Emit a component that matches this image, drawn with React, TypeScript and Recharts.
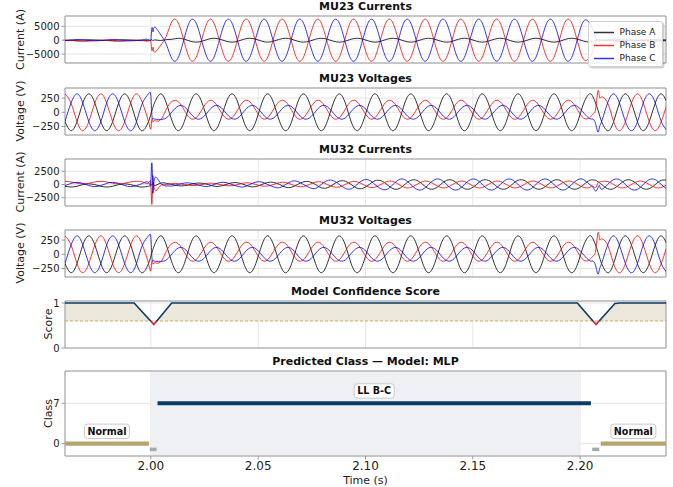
import React from "react";
import {
  LineChart,
  ComposedChart,
  Line,
  Area,
  XAxis,
  YAxis,
  CartesianGrid,
  ReferenceArea,
  ReferenceLine,
  ReferenceDot,
} from "recharts";

const FONT = "'DejaVu Sans', sans-serif";

// sample times (s), ~60 deg steps of a 60 Hz cycle, extra samples at fault / clearing
const T = [
  1.96, 1.9628, 1.9656, 1.9683, 1.9711, 1.9739,
  1.9767, 1.9794, 1.9822, 1.985, 1.9878, 1.9906,
  1.9933, 1.9961, 1.9989, 2.0, 2.0005, 2.001, 2.0017, 2.0044, 2.0072,
  2.01, 2.0128, 2.0156, 2.0183, 2.0211, 2.0239,
  2.0267, 2.0294, 2.0322, 2.035, 2.0378, 2.0406,
  2.0433, 2.0461, 2.0489, 2.0517, 2.0544, 2.0572,
  2.06, 2.0628, 2.0656, 2.0683, 2.0711, 2.0739,
  2.0767, 2.0794, 2.0822, 2.085, 2.0878, 2.0906,
  2.0933, 2.0961, 2.0989, 2.1017, 2.1044, 2.1072,
  2.11, 2.1128, 2.1156, 2.1183, 2.1211, 2.1239,
  2.1267, 2.1294, 2.1322, 2.135, 2.1378, 2.1406,
  2.1433, 2.1461, 2.1489, 2.1517, 2.1544, 2.1572,
  2.16, 2.1628, 2.1656, 2.1683, 2.1711, 2.1739,
  2.1767, 2.1794, 2.1822, 2.185, 2.1878, 2.1906,
  2.1933, 2.1961, 2.1989, 2.2017, 2.2044, 2.206, 2.2072, 2.2083, 2.209,
  2.21, 2.2128, 2.2156, 2.2183, 2.2211, 2.2239,
  2.2267, 2.2294, 2.2322, 2.235, 2.2378, 2.2406,
];

// MU23 currents (A)
const MU23_IA = [
  -75, -150, -75, 75, 150, 75,
  -75, -150, -75, 75, 150, 75,
  -75, -150, -75, -15, 200, -200, 100, -100, 200,
  350, 700, 350, -350, -700, -350,
  350, 700, 350, -350, -700, -350,
  350, 700, 350, -350, -700, -350,
  350, 700, 350, -350, -700, -350,
  350, 700, 350, -350, -700, -350,
  350, 700, 350, -350, -700, -350,
  350, 700, 350, -350, -700, -350,
  350, 700, 350, -350, -700, -350,
  350, 700, 350, -350, -700, -350,
  350, 700, 350, -350, -700, -350,
  350, 700, 350, -350, -700, -350,
  350, 700, 350, -350, -700, -400, -100, 100, 0,
  -75, -150, -75, 75, 150, 75,
  -75, -150, -75, 75, 150, 75,
];
const MU23_IB = [
  50, -75, -325, -450, -325, -75,
  50, -75, -325, -450, -325, -75,
  50, -75, -325, -400, -3800, -2500, -4300, -2000, 1500,
  6946, 6148, -798, -6946, -6148, 798,
  6946, 6148, -798, -6946, -6148, 798,
  6946, 6148, -798, -6946, -6148, 798,
  6946, 6148, -798, -6946, -6148, 798,
  6946, 6148, -798, -6946, -6148, 798,
  6946, 6148, -798, -6946, -6148, 798,
  6946, 6148, -798, -6946, -6148, 798,
  6946, 6148, -798, -6946, -6148, 798,
  6946, 6148, -798, -6946, -6148, 798,
  6946, 6148, -798, -6946, -6148, 798,
  6946, 6148, -798, -6946, -6148, 798,
  6946, 6148, -798, -6946, -6148, -3500, -800, 300, -200,
  50, -75, -325, -450, -325, -75,
  50, -75, -325, -450, -325, -75,
];
const MU23_IC = [
  -125, 125, 250, 125, -125, -250,
  -125, 125, 250, 125, -125, -250,
  -125, 125, 250, 230, 4500, 3000, 4700, 2200, -1500,
  -6946, -6148, 798, 6946, 6148, -798,
  -6946, -6148, 798, 6946, 6148, -798,
  -6946, -6148, 798, 6946, 6148, -798,
  -6946, -6148, 798, 6946, 6148, -798,
  -6946, -6148, 798, 6946, 6148, -798,
  -6946, -6148, 798, 6946, 6148, -798,
  -6946, -6148, 798, 6946, 6148, -798,
  -6946, -6148, 798, 6946, 6148, -798,
  -6946, -6148, 798, 6946, 6148, -798,
  -6946, -6148, 798, 6946, 6148, -798,
  -6946, -6148, 798, 6946, 6148, -798,
  -6946, -6148, 798, 6946, 6148, 3500, 800, -300, 200,
  -125, 125, 250, 125, -125, -250,
  -125, 125, 250, 125, -125, -250,
];

// MU23 voltages (V)
const MU23_VA = [
  -163, -325, -163, 163, 325, 163,
  -163, -325, -163, 163, 325, 163,
  -163, -325, -163, -34, 28, 89, 163, 325, 163,
  -163, -325, -163, 163, 325, 163,
  -163, -325, -163, 163, 325, 163,
  -163, -325, -163, 163, 325, 163,
  -163, -325, -163, 163, 325, 163,
  -163, -325, -163, 163, 325, 163,
  -163, -325, -163, 163, 325, 163,
  -163, -325, -163, 163, 325, 163,
  -163, -325, -163, 163, 325, 163,
  -163, -325, -163, 163, 325, 163,
  -163, -325, -163, 163, 325, 163,
  -163, -325, -163, 163, 325, 163,
  -163, -325, -163, 163, 325, 271, 163, 37, -47,
  -163, -325, -163, 163, 325, 163,
  -163, -325, -163, 163, 325, 163,
];
const MU23_VB = [
  325, 163, -163, -325, -163, 163,
  325, 163, -163, -325, -163, 163,
  325, 163, -163, -290, -120, -170, -150, -140, 54,
  195, 186, 36, -105, -96, 54,
  195, 186, 36, -105, -96, 54,
  195, 186, 36, -105, -96, 54,
  195, 186, 36, -105, -96, 54,
  195, 186, 36, -105, -96, 54,
  195, 186, 36, -105, -96, 54,
  195, 186, 36, -105, -96, 54,
  195, 186, 36, -105, -96, 54,
  195, 186, 36, -105, -96, 54,
  195, 186, 36, -105, -96, 54,
  195, 186, 36, -105, -96, 54,
  195, 186, 36, -105, -96, -30, 60, 380, 270,
  270, 163, -163, -325, -163, 163,
  325, 163, -163, -325, -163, 163,
];
const MU23_VC = [
  -163, 163, 325, 163, -163, -325,
  -163, 163, 325, 163, -163, -325,
  -163, 163, 325, 297, -60, -110, -120, -125, -99,
  13, 111, 99, -13, -111, -99,
  13, 111, 99, -13, -111, -99,
  13, 111, 99, -13, -111, -99,
  13, 111, 99, -13, -111, -99,
  13, 111, 99, -13, -111, -99,
  13, 111, 99, -13, -111, -99,
  13, 111, 99, -13, -111, -99,
  13, 111, 99, -13, -111, -99,
  13, 111, 99, -13, -111, -99,
  13, 111, 99, -13, -111, -99,
  13, 111, 99, -13, -111, -99,
  13, 111, 99, -13, -111, -120, -200, -350, -260,
  -163, 163, 325, 163, -163, -325,
  -163, 163, 325, 163, -163, -325,
];

// MU32 currents (A)
const MU32_IA = [
  -330, -480, -330, -30, 120, -30,
  -330, -480, -330, -30, 120, -30,
  -330, -480, -330, -211, 0, 300, -200, 234, 234,
  0, -234, -234, 0, 234, 234,
  0, -312, -312, 0, 312, 312,
  0, -390, -390, 0, 390, 390,
  0, -506, -506, 0, 506, 506,
  0, -623, -623, 0, 623, 623,
  0, -701, -701, 0, 701, 701,
  0, -779, -779, 0, 779, 779,
  0, -779, -779, 0, 779, 779,
  0, -779, -779, 0, 779, 779,
  0, -779, -779, 0, 779, 779,
  0, -779, -779, 0, 779, 779,
  0, -779, -779, 0, 779, 850, 779, 529, 331,
  0, -779, -779, 0, 779, 779,
  0, -779, -779, 0, 779, 779,
];
const MU32_IB = [
  600, 480, 240, 120, 240, 480,
  600, 480, 240, 120, 240, 480,
  600, 480, 240, 166, -3700, 1500, -900, -250, 0,
  169, 169, 0, -169, -169, 0,
  225, 225, 0, -225, -225, 0,
  281, 281, 0, -281, -281, 0,
  366, 366, 0, -366, -366, 0,
  450, 450, 0, -450, -450, 0,
  507, 507, 0, -507, -507, 0,
  563, 563, 0, -563, -563, 0,
  563, 563, 0, -563, -563, 0,
  563, 563, 0, -563, -563, 0,
  563, 563, 0, -563, -563, 0,
  563, 563, 0, -563, -563, 0,
  563, 563, 0, -563, -563, -300, -600, 300, 500,
  563, 563, 0, -563, -563, 0,
  563, 563, 0, -563, -563, 0,
];
const MU32_IC = [
  -200, 200, 400, 200, -200, -400,
  -200, 200, 400, 200, -200, -400,
  -200, 200, 400, 365, 4000, -1500, 1100, 300, -273,
  -273, 0, 273, 273, 0, -273,
  -364, 0, 364, 364, 0, -364,
  -455, 0, 455, 455, 0, -455,
  -591, 0, 591, 591, 0, -591,
  -727, 0, 727, 727, 0, -727,
  -818, 0, 818, 818, 0, -818,
  -909, 0, 909, 909, 0, -909,
  -909, 0, 909, 909, 0, -909,
  -909, 0, 909, 909, 0, -909,
  -909, 0, 909, 909, 0, -909,
  -909, 0, 909, 909, 0, -909,
  -909, 0, 909, 909, 0, -500, -1250, -600, -200,
  -909, 0, 909, 909, 0, -909,
  -909, 0, 909, 909, 0, -909,
];

// MU32 voltages read the same as MU23 in the figure
const MU32_VA = MU23_VA;
const MU32_VB = MU23_VB;
const MU32_VC = MU23_VC;

// model confidence
const SCORE_T = [1.96, 1.9922, 2.0014, 2.0097, 2.1987, 2.2074, 2.2162, 2.2185, 2.24];
const SCORE = [1.0, 1.0, 0.52, 1.0, 1.0, 0.52, 0.99, 1.0, 1.0];
const THRESH = 0.6;

// predicted class segments
const SEG_START = [1.96, 1.9995, 2.0031, 2.2056, 2.2096];
const SEG_END = [1.9991, 2.0027, 2.205, 2.2089, 2.24];
const SEG_CLASS = [0, -1, 7, -1, 0];
const SEG_LABEL = ["Normal", "", "LL B-C", "", "Normal"];
const FAULT_SPAN = [2.0, 2.2];

const X_DOMAIN = [1.96, 2.24];
const X_TICKS = [2.0, 2.05, 2.1, 2.15, 2.2];

const PHASES = [
  { key: "a", name: "Phase A", color: "#000000" },
  { key: "b", name: "Phase B", color: "#ff0000" },
  { key: "c", name: "Phase C", color: "#0000ff" },
];

const NAVY = "#0c3a62";
const RED = "#dc1f3c";
const TAN = "#b6a56c";
const GRAY_SEG = "#a4a8b0";
const GRID = "#e6e6e6";
const SPINE = "#9a9a9a";

const W = 673;
const PLOT_L = 65;
const PLOT_R = 666;
const Y_W = 55;
const PANEL_H = 47;
const CLASS_H = 85;

const fmtTick = (v: number) => (v < 0 ? "\u2212" + Math.abs(v) : String(v));

const waveRows = (a: number[], b: number[], c: number[]) =>
  T.map((t, i) => ({ t, a: a[i], b: b[i], c: c[i] }));

const margin = { top: 5, right: W - PLOT_R, bottom: 5, left: PLOT_L - Y_W };

const yAxisProps = {
  type: "number" as const,
  allowDataOverflow: true,
  width: Y_W,
  axisLine: false,
  tickLine: { stroke: SPINE },
  tickSize: 3.5,
  tickMargin: 2,
  interval: 0 as const,
  tick: { fontSize: 10, fill: "#222", fontFamily: FONT },
  tickFormatter: fmtTick,
};

interface WaveProps {
  top: number;
  a: number[];
  b: number[];
  c: number[];
  domain: [number, number];
  ticks: number[];
}

const WavePanel: React.FC<WaveProps> = ({ top, a, b, c, domain, ticks }) => (
  <div style={{ position: "absolute", left: 0, top: top - 5 }}>
    <LineChart width={W} height={PANEL_H + 10} data={waveRows(a, b, c)} margin={margin}>
      <CartesianGrid stroke={GRID} />
      <XAxis type="number" dataKey="t" domain={X_DOMAIN} ticks={X_TICKS} allowDataOverflow hide />
      <YAxis {...yAxisProps} domain={domain} ticks={ticks} />
      {PHASES.map((p) => (
        <Line
          key={p.key}
          dataKey={p.key}
          type="natural"
          stroke={p.color}
          strokeOpacity={0.8}
          strokeWidth={1}
          dot={false}
          activeDot={false}
          isAnimationActive={false}
        />
      ))}
      <ReferenceArea x1={X_DOMAIN[0]} x2={X_DOMAIN[1]} y1={domain[0]} y2={domain[1]} fill="none" stroke={SPINE} />
    </LineChart>
  </div>
);

const PhaseLegend = () => (
  <div
    style={{
      position: "absolute",
      left: 587.5,
      top: 20.5,
      width: 75,
      height: 46,
      boxSizing: "border-box",
      background: "rgba(255,255,255,0.85)",
      border: "1px solid #cfcfcf",
      borderRadius: 3,
      boxShadow: "1.5px 1.5px 0 rgba(0,0,0,0.18)",
      fontFamily: FONT,
      fontSize: 9,
      color: "#222",
    }}
  >
    {PHASES.map((p, i) => (
      <div
        key={p.key}
        style={{ position: "absolute", left: 5, top: 4 + i * 13, height: 13, display: "flex", alignItems: "center" }}
      >
        <svg width={20} height={3}>
          <line x1={0} y1={1.5} x2={20} y2={1.5} stroke={p.color} strokeOpacity={0.8} strokeWidth={1.5} />
        </svg>
        <span style={{ marginLeft: 6, whiteSpace: "nowrap" }}>{p.name}</span>
      </div>
    ))}
  </div>
);

const scoreRows = SCORE_T.map((t, i) => ({ t, s: SCORE[i] }));
const sMax = Math.max(...SCORE);
const sMin = Math.min(...SCORE);
const gradOff = (sMax - THRESH) / (sMax - sMin);

const LABEL_W: Record<string, number> = { Normal: 45, "LL B-C": 40 };

const ClassLabel = ({ cx, cy, text }: { cx: number; cy: number; text: string }) => {
  const w = LABEL_W[text] || 42;
  return (
    <g>
      <rect x={cx - w / 2} y={cy - 12.3 - 7.2} width={w} height={14.4} rx={3} fill="#fff" stroke="#c9c9c9" />
      <text
        x={cx}
        y={cy - 12.3}
        textAnchor="middle"
        dominantBaseline="central"
        fontSize={9.6}
        fontWeight="bold"
        fontFamily={FONT}
        fill="#111"
      >
        {text}
      </text>
    </g>
  );
};

const TITLES = [
  { top: 16, text: "MU23 Currents", label: "Current (A)", lx: 20, h: PANEL_H },
  { top: 87.5, text: "MU23 Voltages", label: "Voltage (V)", lx: 20, h: PANEL_H },
  { top: 158.5, text: "MU32 Currents", label: "Current (A)", lx: 20, h: PANEL_H },
  { top: 229.5, text: "MU32 Voltages", label: "Voltage (V)", lx: 20, h: PANEL_H },
  { top: 300.5, text: "Model Confidence Score", label: "Score", lx: 48, h: PANEL_H },
  { top: 371, text: "Predicted Class \u2014 Model: MLP", label: "Class", lx: 48, h: CLASS_H },
];

export default function App() {
  const cx = (PLOT_L + PLOT_R) / 2;
  return (
    <div style={{ position: "absolute", left: 0, top: 0, width: W, height: 487, background: "#fff", overflow: "hidden" }}>
      <svg width={W} height={487} style={{ position: "absolute", left: 0, top: 0 }}>
        {TITLES.map((p) => (
          <g key={p.text}>
            <text x={cx} y={p.top - 6} textAnchor="middle" fontSize={11} fontWeight="bold" fontFamily={FONT} fill="#111">
              {p.text}
            </text>
            <text
              transform={`translate(${p.lx},${p.top + p.h / 2}) rotate(-90)`}
              textAnchor="middle"
              dominantBaseline="central"
              fontSize={11}
              fontFamily={FONT}
              fill="#222"
            >
              {p.label}
            </text>
          </g>
        ))}
        <text x={cx} y={483.5} textAnchor="middle" fontSize={11} fontFamily={FONT} fill="#222">
          Time (s)
        </text>
      </svg>

      <WavePanel top={16} a={MU23_IA} b={MU23_IB} c={MU23_IC} domain={[-8200, 8700]} ticks={[-5000, 0, 5000]} />
      <WavePanel top={87.5} a={MU23_VA} b={MU23_VB} c={MU23_VC} domain={[-400, 428]} ticks={[-250, 0, 250]} />
      <WavePanel top={158.5} a={MU32_IA} b={MU32_IB} c={MU32_IC} domain={[-4050, 4800]} ticks={[-2500, 0, 2500]} />
      <WavePanel top={229.5} a={MU32_VA} b={MU32_VB} c={MU32_VC} domain={[-400, 428]} ticks={[-250, 0, 250]} />

      <div style={{ position: "absolute", left: 0, top: 300.5 - 5 }}>
        <ComposedChart width={W} height={PANEL_H + 10} data={scoreRows} margin={margin}>
          <defs>
            <linearGradient id="scoreStroke" x1="0" y1="0" x2="0" y2="1">
              <stop offset={gradOff} stopColor={NAVY} />
              <stop offset={gradOff} stopColor={RED} />
            </linearGradient>
          </defs>
          <CartesianGrid stroke={GRID} />
          <XAxis type="number" dataKey="t" domain={X_DOMAIN} ticks={X_TICKS} allowDataOverflow hide />
          <YAxis {...yAxisProps} domain={[0, 1.045]} ticks={[0, 1]} />
          <Area
            dataKey="s"
            type="linear"
            baseValue={THRESH}
            fill="#ebe7da"
            fillOpacity={1}
            stroke="none"
            dot={false}
            activeDot={false}
            isAnimationActive={false}
          />
          <ReferenceLine y={THRESH} stroke="#c9ad5c" strokeDasharray="3 2" strokeWidth={1} />
          <Line
            dataKey="s"
            type="linear"
            stroke="url(#scoreStroke)"
            strokeWidth={1.6}
            dot={false}
            activeDot={false}
            isAnimationActive={false}
          />
          <ReferenceArea x1={X_DOMAIN[0]} x2={X_DOMAIN[1]} y1={0} y2={1.045} fill="none" stroke={SPINE} />
        </ComposedChart>
      </div>

      <div style={{ position: "absolute", left: 0, top: 371 - 5 }}>
        <LineChart width={W} height={CLASS_H + 5 + 22} margin={{ ...margin, bottom: 0 }}>
          <ReferenceArea x1={FAULT_SPAN[0]} x2={FAULT_SPAN[1]} y1={-2.15} y2={12.6} fill="#eff0f3" fillOpacity={1} />
          <CartesianGrid stroke={GRID} />
          <XAxis
            type="number"
            dataKey="t"
            domain={X_DOMAIN}
            ticks={X_TICKS}
            allowDataOverflow
            height={22}
            axisLine={false}
            tickLine={{ stroke: SPINE }}
            tickSize={3.5}
            tickMargin={1.5}
            interval={0}
            tick={{ fontSize: 12, fill: "#222", fontFamily: FONT }}
            tickFormatter={(v: number) => v.toFixed(2)}
          />
          <YAxis {...yAxisProps} domain={[-2.15, 12.6]} ticks={[0, 7]} />
          {SEG_START.map((s, i) => (
            <Line
              key={"seg" + i}
              data={[
                { t: s, v: SEG_CLASS[i] },
                { t: SEG_END[i], v: SEG_CLASS[i] },
              ]}
              dataKey="v"
              type="linear"
              stroke={SEG_CLASS[i] === 7 ? NAVY : SEG_CLASS[i] === 0 ? TAN : GRAY_SEG}
              strokeWidth={SEG_CLASS[i] < 0 ? 3.5 : 4.2}
              dot={false}
              activeDot={false}
              isAnimationActive={false}
            />
          ))}
          {SEG_START.map((s, i) =>
            SEG_LABEL[i] ? (
              <ReferenceDot
                key={"lab" + i}
                x={(s + SEG_END[i]) / 2}
                y={SEG_CLASS[i]}
                r={0}
                shape={(p: any) => <ClassLabel cx={p.cx} cy={p.cy} text={SEG_LABEL[i]} />}
              />
            ) : null
          )}
          <ReferenceArea x1={X_DOMAIN[0]} x2={X_DOMAIN[1]} y1={-2.15} y2={12.6} fill="none" stroke={SPINE} />
        </LineChart>
      </div>

      <PhaseLegend />
    </div>
  );
}
